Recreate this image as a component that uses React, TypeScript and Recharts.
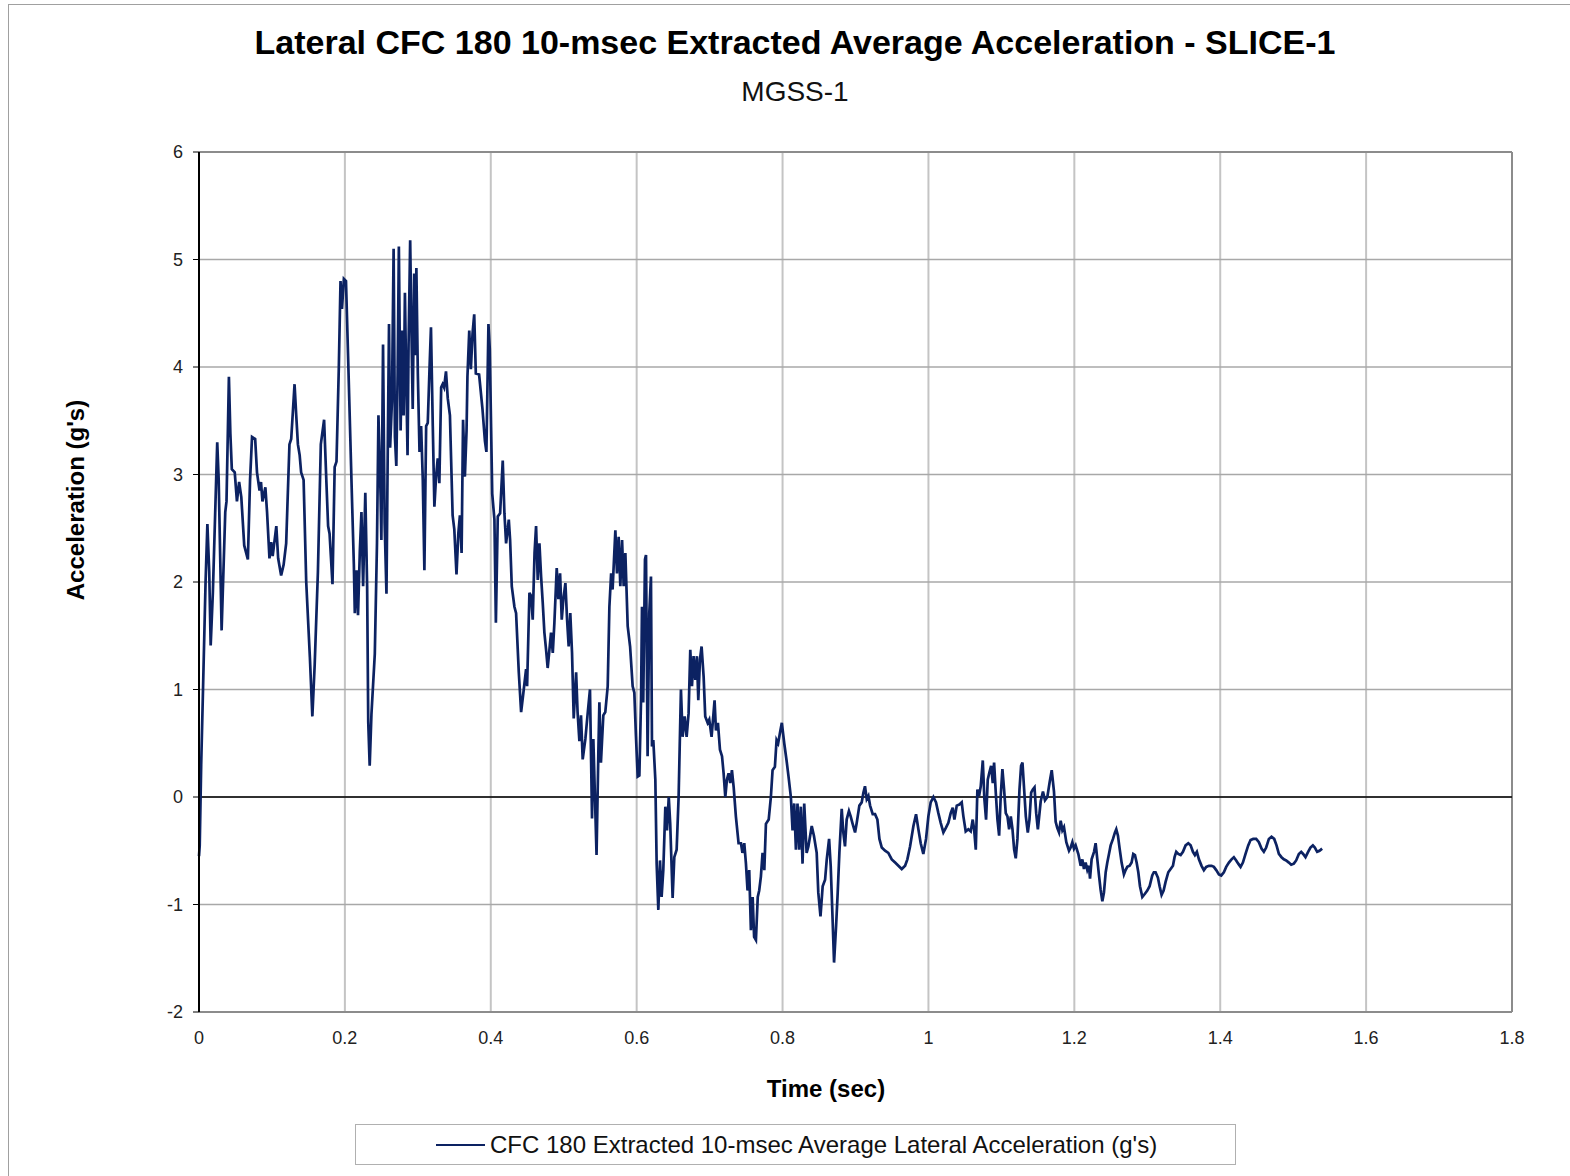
import { LineChart, Line, XAxis, YAxis, CartesianGrid, ReferenceLine, Legend } from "recharts";

const FONT = "Arial, 'Liberation Sans', sans-serif";
const NAVY = "#0c2262";

// time (sec) / lateral acceleration (g's) in segments
const t1 = [0, 0.001, 0.003, 0.0055, 0.009, 0.0115, 0.014, 0.016, 0.019, 0.025, 0.027, 0.031, 0.036, 0.0377, 0.041, 0.043, 0.045, 0.049, 0.052, 0.055, 0.058, 0.062, 0.067, 0.07, 0.0727, 0.077, 0.0795, 0.083, 0.085, 0.087, 0.091, 0.0933, 0.0966, 0.099, 0.101, 0.106, 0.1085, 0.1126, 0.116, 0.1195, 0.124, 0.1264, 0.131, 0.1333, 0.1356, 0.138, 0.14, 0.1434, 0.147, 0.152, 0.1554, 0.1586, 0.163, 0.167, 0.1715, 0.1747, 0.177, 0.179, 0.183, 0.186, 0.1885, 0.1917, 0.194, 0.196, 0.1986, 0.2015];
const g1 = [-0.55, -0.45, 0.3, 1.0, 2.0, 2.54, 2.1, 1.41, 1.9, 3.3, 2.95, 1.55, 2.65, 2.75, 3.91, 3.38, 3.05, 3.02, 2.75, 2.93, 2.79, 2.34, 2.21, 2.95, 3.35, 3.33, 3.02, 2.85, 2.93, 2.75, 2.88, 2.65, 2.22, 2.37, 2.24, 2.52, 2.22, 2.06, 2.16, 2.36, 3.28, 3.33, 3.84, 3.55, 3.28, 3.18, 3.02, 2.95, 2.0, 1.3, 0.75, 1.23, 2.09, 3.28, 3.51, 2.92, 2.52, 2.45, 1.98, 3.07, 3.12, 4.0, 4.8, 4.54, 4.82, 4.8];

const t2 = [0.2045, 0.209, 0.2123, 0.2136, 0.216, 0.218, 0.2205, 0.2227, 0.225, 0.228, 0.2305, 0.232, 0.234, 0.2364, 0.241, 0.244, 0.246, 0.249, 0.25, 0.2523, 0.2545, 0.257, 0.259, 0.2605, 0.262, 0.2645, 0.2668, 0.2686, 0.2705, 0.2723, 0.274, 0.2764, 0.2786, 0.2805, 0.2823, 0.284, 0.2859, 0.2873, 0.2895, 0.2914, 0.293, 0.295, 0.2968, 0.298, 0.3, 0.3023, 0.3045, 0.3068, 0.309, 0.3114, 0.3136, 0.316, 0.318, 0.3205, 0.3227, 0.325, 0.3273, 0.3295, 0.332, 0.334, 0.336, 0.3386, 0.341, 0.344, 0.3477, 0.35, 0.353, 0.3555, 0.3577, 0.36, 0.362, 0.3645, 0.3668, 0.368, 0.3705, 0.3727, 0.375, 0.3773, 0.3795, 0.384, 0.3886, 0.392, 0.394, 0.3968, 0.3986];
const g2 = [4.07, 2.95, 2.16, 1.71, 2.11, 1.69, 2.29, 2.65, 1.96, 2.83, 1.96, 0.7, 0.29, 0.77, 1.33, 2.36, 3.55, 2.79, 2.39, 4.21, 2.55, 1.89, 3.41, 4.4, 3.25, 3.68, 5.1, 3.35, 3.08, 3.94, 5.12, 3.41, 4.34, 3.55, 4.69, 3.94, 3.18, 4.21, 5.18, 4.27, 3.61, 4.87, 4.11, 4.92, 3.94, 3.21, 3.45, 2.95, 2.11, 3.45, 3.48, 3.98, 4.37, 3.45, 2.7, 2.98, 3.15, 2.92, 3.81, 3.84, 3.81, 3.96, 3.71, 3.55, 2.62, 2.49, 2.07, 2.45, 2.62, 2.27, 3.51, 2.98, 3.41, 3.91, 4.34, 3.98, 4.31, 4.49, 3.94, 3.93, 3.61, 3.31, 3.21, 4.4, 4.17];

const t3 = [0.402, 0.405, 0.407, 0.4096, 0.4128, 0.4164, 0.4187, 0.421, 0.4247, 0.4265, 0.4288, 0.4324, 0.4347, 0.4384, 0.4416, 0.4447, 0.4484, 0.4498, 0.453, 0.4553, 0.4575, 0.46, 0.4621, 0.4644, 0.4667, 0.469, 0.4712, 0.4735, 0.4758, 0.478, 0.48, 0.4826, 0.485, 0.4872, 0.4904, 0.4927, 0.495, 0.4973, 0.4995, 0.5023, 0.5046, 0.5068, 0.509, 0.5114, 0.5137, 0.517, 0.519, 0.5215, 0.5237, 0.526, 0.5297, 0.533, 0.536, 0.5388, 0.5406, 0.543, 0.545, 0.5475, 0.5489, 0.551, 0.5543, 0.557, 0.5603, 0.5626, 0.565, 0.567, 0.5708, 0.573, 0.5753, 0.5776, 0.58, 0.5822, 0.5845, 0.5877, 0.591, 0.5945, 0.5968, 0.599, 0.6014, 0.6037, 0.606, 0.6073, 0.609, 0.6114, 0.6128];
const g3 = [2.82, 2.58, 1.62, 2.61, 2.64, 3.13, 2.64, 2.36, 2.58, 2.39, 1.96, 1.77, 1.71, 1.16, 0.79, 0.97, 1.19, 1.03, 1.9, 1.87, 1.65, 2.27, 2.52, 2.02, 2.36, 2.05, 1.81, 1.53, 1.37, 1.2, 1.34, 1.53, 1.34, 1.62, 2.13, 1.84, 2.08, 1.65, 1.84, 1.99, 1.65, 1.4, 1.71, 1.34, 0.73, 1.16, 0.79, 0.52, 0.76, 0.35, 0.54, 0.79, 1.0, -0.2, 0.54, -0.05, -0.54, 0.42, 0.88, 0.32, 0.76, 0.79, 1.03, 1.77, 2.08, 1.93, 2.48, 2.08, 2.42, 1.96, 2.39, 1.96, 2.27, 1.59, 1.4, 1.03, 0.97, 0.57, 0.19, 0.2, 0.91, 1.77, 0.88, 2.21, 2.25];

const t4 = [0.615, 0.6173, 0.6196, 0.621, 0.6228, 0.6256, 0.6274, 0.6297, 0.632, 0.6342, 0.6365, 0.6393, 0.6416, 0.644, 0.646, 0.6493, 0.6516, 0.6548, 0.6575, 0.6607, 0.663, 0.6658, 0.6685, 0.6712, 0.6735, 0.6758, 0.678, 0.6804, 0.6826, 0.6845, 0.6868, 0.689, 0.6918, 0.694, 0.6973, 0.6995, 0.7027, 0.705, 0.7068, 0.7087, 0.7114, 0.7142, 0.717, 0.7192, 0.7215, 0.7237, 0.726, 0.7283, 0.7306, 0.733, 0.736, 0.7397, 0.743, 0.745, 0.7475, 0.7498, 0.752, 0.7543, 0.7566, 0.759, 0.761, 0.7635, 0.766, 0.768, 0.7703, 0.7726, 0.775, 0.7772, 0.781, 0.784, 0.7863, 0.7895, 0.7918, 0.794, 0.7963, 0.799, 0.8023, 0.8055, 0.8082, 0.8114, 0.8137, 0.816, 0.8183, 0.8205, 0.8228, 0.825, 0.8274, 0.8297];
const g4 = [0.38, 1.71, 2.05, 0.47, 0.53, 0.16, -0.62, -1.05, -0.59, -0.93, -0.68, -0.09, -0.31, 0.0, -0.25, -0.94, -0.56, -0.49, 0.0, 1.0, 0.56, 0.75, 0.56, 0.78, 1.37, 1.03, 1.31, 1.09, 1.31, 0.9, 1.28, 1.4, 1.12, 0.75, 0.69, 0.72, 0.56, 0.75, 0.9, 0.62, 0.69, 0.44, 0.38, 0.22, 0.0, 0.16, 0.22, 0.13, 0.25, 0.09, -0.18, -0.43, -0.43, -0.52, -0.43, -0.62, -0.87, -0.68, -1.24, -0.93, -1.3, -1.33, -0.93, -0.87, -0.74, -0.52, -0.68, -0.25, -0.21, 0.0, 0.25, 0.28, 0.53, 0.5, 0.59, 0.69, 0.5, 0.34, 0.19, 0.0, -0.31, -0.06, -0.49, -0.06, -0.49, -0.09, -0.62, -0.06];

const t5 = [0.833, 0.8354, 0.84, 0.843, 0.8468, 0.849, 0.852, 0.855, 0.8583, 0.8606, 0.8638, 0.866, 0.8683, 0.8706, 0.8734, 0.8756, 0.8779, 0.8811, 0.8833, 0.8856, 0.8879, 0.891, 0.8934, 0.8957, 0.8994, 0.9017, 0.9053, 0.9085, 0.9108, 0.913, 0.9154, 0.9177, 0.92, 0.9236, 0.9268, 0.93, 0.9328, 0.936, 0.9405, 0.945, 0.9497, 0.9543, 0.9588, 0.9634, 0.968, 0.9711, 0.9748, 0.9794, 0.983, 0.9862, 0.9894, 0.993, 0.9967, 0.9999, 1.0031, 1.0068, 1.0104, 1.0136, 1.0168, 1.0205, 1.0237, 1.0273, 1.0305, 1.0333, 1.0356, 1.0388, 1.0424, 1.0456, 1.0479, 1.0511, 1.0548, 1.058, 1.0607, 1.0626, 1.0649, 1.0671, 1.0694, 1.0717, 1.0745, 1.0767, 1.079, 1.0813, 1.0836, 1.0859, 1.0882, 1.09, 1.0923, 1.0946, 1.0969, 1.0991, 1.1014, 1.1037, 1.106, 1.1083, 1.1106, 1.1129, 1.1152, 1.1175, 1.1197, 1.122, 1.1248, 1.127, 1.1289, 1.1312, 1.1335, 1.1362, 1.1385, 1.1408, 1.1431, 1.1454, 1.1477, 1.15];
const g5 = [-0.52, -0.46, -0.27, -0.36, -0.52, -0.89, -1.11, -0.83, -0.77, -0.58, -0.39, -0.64, -1.08, -1.54, -1.2, -0.89, -0.52, -0.11, -0.33, -0.46, -0.21, -0.13, -0.18, -0.24, -0.33, -0.24, -0.08, -0.05, 0.04, 0.1, -0.02, 0.01, -0.08, -0.16, -0.16, -0.21, -0.39, -0.47, -0.5, -0.52, -0.58, -0.61, -0.64, -0.67, -0.64, -0.58, -0.46, -0.27, -0.16, -0.3, -0.43, -0.53, -0.39, -0.18, -0.05, 0.0, -0.05, -0.15, -0.24, -0.33, -0.29, -0.24, -0.15, -0.1, -0.21, -0.08, -0.07, -0.05, -0.18, -0.32, -0.3, -0.32, -0.21, -0.3, -0.49, 0.07, 0.01, 0.1, 0.34, -0.02, -0.21, 0.16, 0.23, 0.29, 0.13, 0.32, 0.04, -0.21, -0.36, 0.01, 0.26, 0.07, -0.15, -0.18, -0.3, -0.18, -0.3, -0.49, -0.57, -0.39, 0.07, 0.29, 0.32, 0.07, -0.18, -0.33, -0.21, 0.04, 0.07, 0.09, -0.15, -0.3];

const t6 = [1.1539, 1.157, 1.1598, 1.163, 1.1662, 1.169, 1.1721, 1.1744, 1.1767, 1.179, 1.1813, 1.1836, 1.1858, 1.189, 1.1927, 1.195, 1.1973, 1.1995, 1.2018, 1.2055, 1.2087, 1.211, 1.2132, 1.2155, 1.2178, 1.22, 1.2215, 1.2237, 1.227, 1.2292, 1.2315, 1.2338, 1.236, 1.2384, 1.2406, 1.243, 1.2452, 1.2475, 1.2498, 1.253, 1.2557, 1.2575, 1.2598, 1.2621, 1.2648, 1.268, 1.2703, 1.2726, 1.2758, 1.2785, 1.2808, 1.2831, 1.2854, 1.2877, 1.29, 1.2932, 1.2968, 1.3, 1.3032, 1.3068, 1.309, 1.3114, 1.3146, 1.3169, 1.3196, 1.3224, 1.3251, 1.3288, 1.332, 1.3352, 1.3374, 1.3397, 1.3425, 1.3457, 1.3489, 1.3525, 1.3562, 1.3594, 1.3626, 1.3653, 1.368, 1.3708, 1.3744, 1.3776, 1.3808, 1.3845, 1.3881, 1.3913, 1.3945, 1.3982, 1.4014, 1.405, 1.4082, 1.4119, 1.4155, 1.4187, 1.4219, 1.4247, 1.4279, 1.4311, 1.4347, 1.4384, 1.4416, 1.4452, 1.4493, 1.453, 1.4566, 1.4598, 1.463, 1.4667, 1.4703, 1.474, 1.4772, 1.4804, 1.484, 1.4872, 1.4904, 1.4941, 1.4973, 1.5009, 1.5041, 1.5078, 1.511, 1.5137, 1.5169, 1.5205, 1.5237, 1.527, 1.5297, 1.5329, 1.5361, 1.5397];
const g6 = [-0.04, 0.05, -0.03, 0.0, 0.14, 0.25, 0.05, -0.23, -0.29, -0.33, -0.22, -0.31, -0.28, -0.42, -0.5, -0.47, -0.42, -0.48, -0.45, -0.53, -0.64, -0.58, -0.67, -0.61, -0.68, -0.64, -0.76, -0.58, -0.51, -0.43, -0.58, -0.73, -0.86, -0.97, -0.89, -0.7, -0.61, -0.53, -0.45, -0.39, -0.33, -0.3, -0.36, -0.48, -0.61, -0.72, -0.68, -0.65, -0.64, -0.61, -0.53, -0.54, -0.61, -0.7, -0.83, -0.93, -0.9, -0.87, -0.83, -0.73, -0.7, -0.7, -0.75, -0.83, -0.91, -0.87, -0.79, -0.7, -0.67, -0.64, -0.56, -0.51, -0.53, -0.54, -0.51, -0.45, -0.43, -0.45, -0.51, -0.54, -0.51, -0.58, -0.64, -0.68, -0.65, -0.64, -0.64, -0.65, -0.68, -0.72, -0.73, -0.7, -0.65, -0.61, -0.58, -0.56, -0.59, -0.62, -0.65, -0.61, -0.53, -0.45, -0.4, -0.39, -0.39, -0.42, -0.48, -0.51, -0.47, -0.39, -0.37, -0.39, -0.45, -0.53, -0.56, -0.58, -0.59, -0.61, -0.63, -0.62, -0.59, -0.53, -0.51, -0.53, -0.56, -0.51, -0.47, -0.45, -0.47, -0.51, -0.5, -0.48];

const timeTicks = [0, 0.2, 0.4, 0.6, 0.8, 1, 1.2, 1.4, 1.6, 1.8];
const accelTicks = [-2, -1, 0, 1, 2, 3, 4, 5, 6];

const seriesName = "CFC 180 Extracted 10-msec Average Lateral Acceleration (g's)";

const timeSec = [...t1, ...t2, ...t3, ...t4, ...t5, ...t6];
const accelG = [...g1, ...g2, ...g3, ...g4, ...g5, ...g6];
const data = timeSec.slice(0, Math.min(timeSec.length, accelG.length)).map((t, i) => ({ t, g: accelG[i] }));

function LegendBox() {
  return (
    <div style={{ width: "100%", height: "100%", boxSizing: "border-box", border: "1.5px solid #b0b0b0", display: "flex", alignItems: "center", paddingLeft: 80, fontFamily: FONT, fontSize: 24, color: "#111" }}>
      <span style={{ display: "inline-block", width: 49, height: 0, borderTop: `2.5px solid ${NAVY}`, marginRight: 5 }} />
      {seriesName}
    </div>
  );
}

export default function App() {
  return (
    <div style={{ position: "absolute", left: 0, top: 0, width: 1570, height: 1176, background: "#fff", fontFamily: FONT }}>
      <div style={{ position: "absolute", left: 8, top: 4, right: 0, bottom: 0, borderTop: "1.5px solid #a0a0a0", borderLeft: "1.5px solid #a0a0a0" }} />
      <div style={{ position: "absolute", left: 195, top: 23, width: 1200, textAlign: "center", fontWeight: "bold", fontSize: 34, color: "#000" }}>
        Lateral CFC 180 10-msec Extracted Average Acceleration - SLICE-1
      </div>
      <div style={{ position: "absolute", left: 595, top: 76, width: 400, textAlign: "center", fontSize: 28, color: "#111" }}>MGSS-1</div>
      <div style={{ position: "absolute", left: 726, top: 1075, width: 200, textAlign: "center", fontWeight: "bold", fontSize: 24, color: "#000" }}>Time (sec)</div>
      <div style={{ position: "absolute", left: 76, top: 500, width: 0, height: 0 }}>
        <div style={{ position: "absolute", left: -150, top: -14, width: 300, textAlign: "center", fontWeight: "bold", fontSize: 24, color: "#000", transform: "rotate(-90deg)" }}>
          Acceleration (g's)
        </div>
      </div>
      <LineChart width={1570} height={1176} data={data} margin={{ top: 152, right: 58, bottom: 124, left: 139 }} style={{ position: "absolute", left: 0, top: 0 }}>
        <CartesianGrid horizontal={false} stroke="#c4c4c4" strokeWidth={2} />
        <CartesianGrid vertical={false} stroke="#a8a8a8" strokeWidth={1.5} />
        <XAxis
          type="number"
          dataKey="t"
          domain={[0, 1.8]}
          ticks={timeTicks}
          interval={0}
          height={40}
          tickLine={false}
          tickSize={0}
          tickMargin={19}
          axisLine={{ stroke: "#8c8c8c", strokeWidth: 2 }}
          tick={{ fontSize: 18, fill: "#222", fontFamily: FONT }}
        />
        <YAxis
          type="number"
          domain={[-2, 6]}
          ticks={accelTicks}
          interval={0}
          width={60}
          tickSize={6}
          tickMargin={10}
          tickLine={{ stroke: "#000" }}
          axisLine={{ stroke: "#000", strokeWidth: 2 }}
          tick={{ fontSize: 18, fill: "#222", fontFamily: FONT }}
        />
        <ReferenceLine y={6} stroke="#8c8c8c" strokeWidth={2} />
        <ReferenceLine x={1.8} stroke="#8c8c8c" strokeWidth={2} />
        <ReferenceLine y={0} stroke="#000" strokeWidth={1.5} />
        <Legend
          layout="horizontal"
          verticalAlign="middle"
          align="center"
          content={() => <LegendBox />}
          wrapperStyle={{ left: 355, top: 1124, width: 881, height: 41 }}
        />
        <Line type="linear" dataKey="g" name={seriesName} stroke={NAVY} strokeWidth={2.7} dot={false} isAnimationActive={false} />
      </LineChart>
    </div>
  );
}
